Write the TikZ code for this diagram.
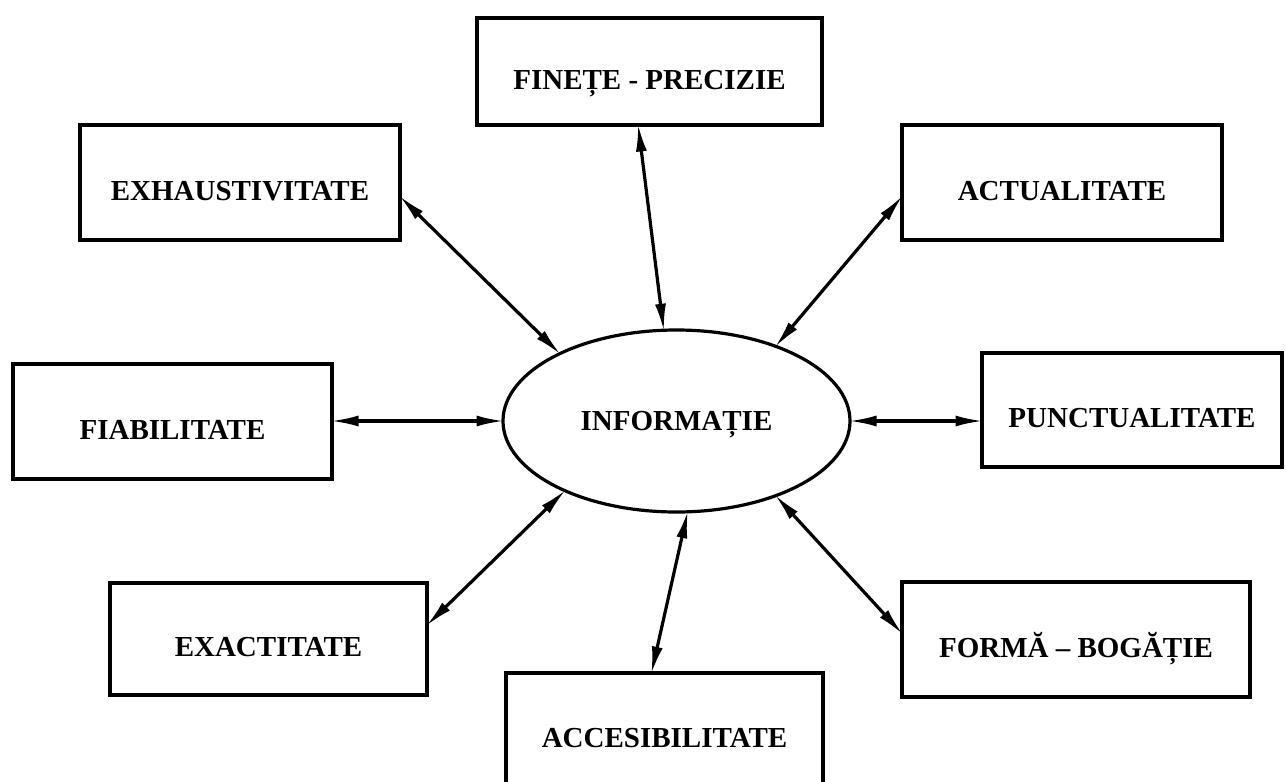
\documentclass[tikz,border=0pt]{standalone}
\usepackage{fontspec}
\setmainfont{Liberation Serif}
\usetikzlibrary{arrows.meta,shapes.geometric}
\begin{document}
\begin{tikzpicture}[x=1pt,y=-1pt,
  every node/.style={font=\fontsize{29}{34}\selectfont\bfseries},
  quality/.style={draw,line width=3.2pt,rectangle,inner sep=0pt,outer sep=0pt,
    text height=35pt,text depth=0pt},
  core/.style={draw,line width=3.2pt,ellipse,inner sep=0pt,outer sep=0pt,
    minimum width=347pt,minimum height=182pt,text height=19pt,text depth=0pt},
  link/.style={line width=3.2pt,shorten <=-1.5pt,shorten >=-1.5pt,
    {Latex[length=28pt,width=11pt]}-{Latex[length=28pt,width=11pt]}}
]
\useasboundingbox (0,0) rectangle (1286,782);
\fill[white] (0,0) rectangle (1286,782);

% central notion
\node[core] (info) at (676.5,421) {INFORMAȚIE};

% qualities of information
\node[quality,minimum width=345pt,minimum height=107pt] (fin) at (649.5,71.5) {FINEȚE - PRECIZIE};
\node[quality,minimum width=320pt,minimum height=115pt] (exh) at (240,182.5) {EXHAUSTIVITATE};
\node[quality,minimum width=320pt,minimum height=115pt] (act) at (1062,182.5) {ACTUALITATE};
\node[quality,minimum width=319pt,minimum height=115pt] (fia) at (172.5,421.5) {FIABILITATE};
\node[quality,minimum width=300pt,minimum height=114pt] (pun) at (1132,410) {PUNCTUALITATE};
\node[quality,minimum width=317pt,minimum height=112pt] (exa) at (268.5,639) {EXACTITATE};
\node[quality,minimum width=317pt,minimum height=113pt] (acc) at (664.5,729.5) {ACCESIBILITATE};
\node[quality,minimum width=348pt,minimum height=115pt] (for) at (1076,639.5) {FORMĂ – BOGĂȚIE};

% two-way links
\draw[link] (fin.-102) -- (info.98);
\draw[link] (exh.-5) -- (info.150);
\draw[link] (act.185) -- (info.37);
\draw[link] (fia.east |- info.west) -- (info.west);
\draw[link] (info.east) -- (pun.west |- info.east);
\draw[link] (exa.5) -- (info.212);
\draw[link] (info.277) -- (acc.103);
\draw[link] (info.-37) -- (for.178);
\end{tikzpicture}
\end{document}
